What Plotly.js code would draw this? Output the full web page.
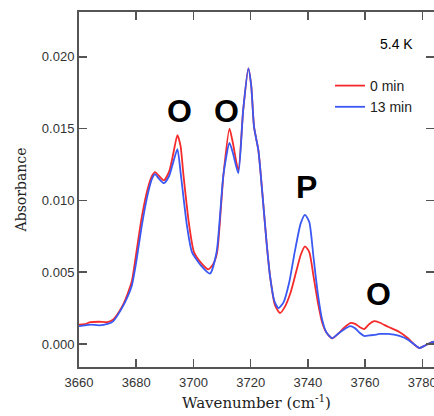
<!DOCTYPE html>
<html>
<head>
<meta charset="utf-8">
<script src="https://cdn.plot.ly/plotly-3.0.1.min.js"></script>
<style>html,body{margin:0;padding:0;background:#fff;}#chart{width:434px;height:416px;}</style>
</head>
<body>
<div id="chart"></div>
<script>
// Wavenumber (cm^-1) sample positions
const wnRed = [3660,3662,3664,3667,3670,3672,3675,3677,3678.5,3680,3682,3684,3685.5,3686.6,3688,3689.7,3691.5,3693,3694.4,3695.5,3696.5,3698.5,3700.2,3702.9,3705.2,3707,3708.3,3710.5,3712.6,3713.8,3715.7,3717.4,3719.2,3720.2,3721.2,3722.7,3724.1,3725.6,3726.8,3728.5,3730.3,3732,3734,3736,3737.5,3739,3740.5,3742,3743.5,3745,3746.5,3748.5,3750.5,3752.5,3754.8,3756.5,3758,3759.7,3761.5,3763.2,3765,3768,3772,3775,3777,3779,3781,3783,3785];
const absRed = [0.00135,0.00138,0.00152,0.00155,0.00153,0.00172,0.00258,0.0035,0.0044,0.0063,0.0089,0.0108,0.0117,0.01197,0.0117,0.0114,0.0120,0.0133,0.01455,0.0138,0.0118,0.0083,0.0064,0.0056,0.0052,0.0056,0.0064,0.0118,0.0150,0.0140,0.0121,0.0163,0.0192,0.0180,0.0151,0.0135,0.0105,0.0070,0.0047,0.0027,0.00216,0.0026,0.0036,0.0051,0.0062,0.0068,0.0064,0.0047,0.0029,0.0015,0.0008,0.0004,0.0007,0.0011,0.00146,0.0014,0.0012,0.00104,0.0014,0.0016,0.0015,0.0012,0.00084,0.0004,0.0000,-0.00028,-0.0001,0.0001,0.0002];
const wnBlue = [3660,3662,3664,3667,3670,3672,3675,3677,3678.5,3680,3682,3684,3685.5,3686.6,3688,3689.7,3691.5,3693,3694.4,3695.6,3697.7,3699.5,3702.9,3705.8,3708.1,3710.5,3712.6,3713.8,3715.7,3717.4,3719.2,3720.2,3721.2,3722.7,3724.1,3725.6,3726.8,3728.3,3729.7,3731.5,3733.5,3735.5,3737.5,3739,3740.5,3742,3743.5,3745,3746.5,3748.5,3750.5,3752.5,3754.8,3756.5,3758,3759.7,3761.5,3763.2,3765,3768,3772,3775,3777,3779,3781,3783,3785];
const absBlue = [0.00125,0.0013,0.00135,0.0013,0.0014,0.0016,0.0025,0.0033,0.0041,0.0057,0.0083,0.0104,0.0115,0.01183,0.0115,0.0112,0.0117,0.0127,0.01357,0.0118,0.0083,0.0064,0.0054,0.0049,0.0064,0.0118,0.0140,0.0133,0.0119,0.0163,0.0192,0.0180,0.0151,0.0135,0.0105,0.0070,0.0047,0.0030,0.0025,0.0029,0.0043,0.0065,0.0084,0.0090,0.0085,0.0060,0.0035,0.0017,0.0008,0.0004,0.0007,0.0010,0.00125,0.0011,0.0008,0.00056,0.0006,0.00063,0.0007,0.0007,0.00056,0.0003,0.0000,-0.00028,-0.0001,0.0001,0.0002];
const seriesNames = ['0 min','13 min'];
const xTicks = [3660,3680,3700,3720,3740,3760,3780];
const yTicks = [0.000,0.005,0.010,0.015,0.020];
const yTickText = ['0.000','0.005','0.010','0.015','0.020'];
const peakLabels = ['O','O','P','O'];
const peakX = [3695,3711.4,3739.4,3764.7];
const peakY = [0.0162,0.0162,0.0109,0.0035];
const tempLabel = '5.4 K';

const tickFont = {family:'Liberation Sans, Arial, sans-serif', size:13, color:'#333'};
const axisCommon = {showline:true, linewidth:2, linecolor:'#555', mirror:'ticks', ticks:'inside', ticklen:8, tickwidth:1.5, tickcolor:'#555', showgrid:false, zeroline:false, tickfont:tickFont, ticklabeloverflow:'allow'};

const traces = [
  {x:wnRed, y:absRed, name:seriesNames[0], type:'scatter', mode:'lines', line:{color:'#f52a2a', width:1.8, shape:'spline', smoothing:0.6}},
  {x:wnBlue, y:absBlue, name:seriesNames[1], type:'scatter', mode:'lines', line:{color:'#3a58f2', width:1.8, shape:'spline', smoothing:0.6}}
];

const annotations = peakLabels.map((t,i)=>({x:peakX[i], y:peakY[i], xref:'x', yref:'y', text:'<b>'+t+'</b>', showarrow:false, font:{family:'Liberation Sans, Arial, sans-serif', size:32, color:'#000'}}));
annotations.push({x:3771, y:0.0209, xref:'x', yref:'y', text:tempLabel, showarrow:false, font:{family:'Liberation Sans, Arial, sans-serif', size:14, color:'#000'}});

const layout = {
  width:434, height:416,
  margin:{l:79, r:0, t:12, b:49},
  paper_bgcolor:'#fff', plot_bgcolor:'#fff',
  showlegend:true,
  legend:{x:(330-79)/355, xanchor:'left', y:(367-70)/355, yanchor:'top', bgcolor:'rgba(0,0,0,0)', borderwidth:0, font:{family:'Liberation Sans, Arial, sans-serif', size:14, color:'#222'}, tracegroupgap:0, itemwidth:30},
  xaxis:Object.assign({}, axisCommon, {range:[3660,3784.1], tickvals:xTicks, ticktext:xTicks.map(String), ticklabelstandoff:2,
    title:{text:'Wavenumber (cm<sup>-1</sup>)', font:{family:'DejaVu Serif, serif', size:15, color:'#222'}, standoff:9}}),
  yaxis:Object.assign({}, axisCommon, {range:[-0.0016,0.02312], tickvals:yTicks, ticktext:yTickText,
    title:{text:'Absorbance', font:{family:'DejaVu Serif, serif', size:14, color:'#222'}, standoff:12}}),
  annotations:annotations
};

Plotly.newPlot('chart', traces, layout, {displayModeBar:false, staticPlot:true});
</script>
</body>
</html>
